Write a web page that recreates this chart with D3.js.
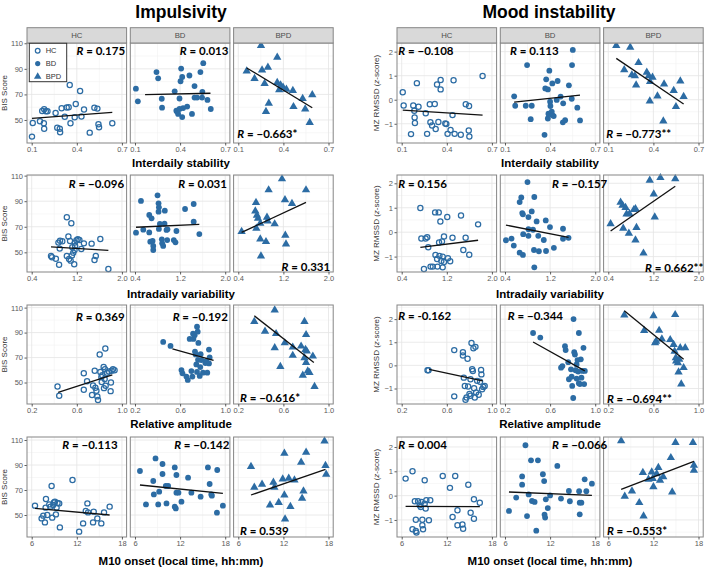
<!DOCTYPE html>
<html><head><meta charset="utf-8">
<script src="https://cdn.jsdelivr.net/npm/d3@7"></script>
<style>body{margin:0;background:#fff}svg{display:block}</style>
</head><body>
<svg id="c" width="709" height="570"></svg>
<script>
// ---------------- DATA ----------------
const groups = ["HC","BD","BPD"];
const blockTitles = ["Impulsivity","Mood instability"];
const rowTitles = ["Interdaily stability","Intradaily variability","Relative amplitude","M10 onset (local time, hh:mm)"];
const xTicks = [[0.1,0.4,0.7],[0.4,1.2,2.0],[0.2,0.6,1.0],[6,12,18]];
const xTickLabels = [["0.1","0.4","0.7"],["0.4","1.2","2.0"],["0.2","0.6","1.0"],["6","12","18"]];
const bisTicks = [50,70,90,110];
const bisTickLabels = ["50","70","90","110"];
const mzTicks = [-1,0,1,2];
const mzTickLabels = ["\u22121","0","1","2"];

// Impulsivity (BIS score)
const imp_IS_HC = [[0.102,37.0],[0.107,47.7],[0.155,49.0],[0.170,57.1],[0.183,58.4],[0.194,56.8],[0.205,56.8],[0.183,43.2],[0.181,47.4],[0.259,55.5],[0.270,44.0],[0.287,43.2],[0.289,40.4],[0.299,59.2],[0.320,52.5],[0.333,59.7],[0.346,60.0],[0.353,77.4],[0.358,47.4],[0.386,52.1],[0.393,62.5],[0.422,72.6],[0.431,52.7],[0.448,58.2],[0.486,40.1],[0.517,59.5],[0.537,58.9],[0.544,46.6],[0.548,44.3],[0.636,47.4]];
const imp_IS_BD = [[0.106,74.5],[0.119,64.6],[0.243,87.5],[0.254,82.6],[0.278,66.6],[0.280,59.6],[0.364,72.4],[0.375,57.3],[0.381,56.5],[0.387,54.7],[0.396,58.6],[0.396,66.8],[0.403,80.3],[0.407,90.2],[0.414,52.3],[0.414,83.7],[0.420,59.3],[0.447,60.5],[0.462,84.8],[0.479,54.7],[0.496,76.5],[0.496,67.5],[0.513,67.5],[0.535,87.5],[0.546,67.5],[0.548,72.0],[0.554,94.4],[0.582,65.7],[0.604,58.6]];
const imp_IS_BPD = [[0.156,88.3],[0.208,82.3],[0.251,108.2],[0.258,89.1],[0.275,78.4],[0.297,91.2],[0.303,63.0],[0.284,56.5],[0.359,99.0],[0.359,79.2],[0.372,73.5],[0.381,77.4],[0.398,75.6],[0.420,74.0],[0.463,73.0],[0.467,60.4],[0.528,66.7],[0.545,58.6],[0.575,47.9],[0.592,69.6]];
const imp_IV_HC = [[0.743,47.1],[0.760,46.1],[0.829,45.0],[0.874,57.6],[0.897,52.9],[0.886,40.3],[0.903,59.1],[0.943,58.6],[1.023,77.4],[1.023,47.1],[1.051,62.3],[1.063,44.8],[1.080,58.9],[1.091,43.5],[1.103,72.7],[1.114,47.6],[1.120,53.9],[1.137,49.7],[1.154,40.6],[1.166,57.6],[1.171,55.0],[1.194,59.4],[1.217,60.2],[1.246,59.6],[1.280,52.6],[1.326,57.0],[1.463,56.8],[1.514,44.0],[1.537,47.1],[1.617,60.4],[1.760,37.0],[1.160,51.8]];
const imp_IV_BD = [[0.418,65.4],[0.506,90.2],[0.547,67.7],[0.653,79.2],[0.653,65.6],[0.694,76.6],[0.671,58.3],[0.712,58.9],[0.724,55.0],[0.724,51.8],[0.800,94.6],[0.818,88.3],[0.824,85.2],[0.818,81.8],[0.824,68.3],[0.841,72.2],[0.876,60.2],[0.882,57.0],[0.900,55.0],[0.929,82.6],[0.924,72.4],[0.959,67.5],[0.976,68.0],[0.971,59.6],[1.088,59.6],[1.118,57.8],[1.135,66.7],[1.288,83.9],[1.441,87.8],[1.441,74.0],[1.541,64.3]];
const imp_IV_BPD = [[0.459,66.2],[0.714,88.9],[0.702,82.3],[0.731,79.0],[0.749,76.6],[0.720,68.8],[0.790,60.4],[0.802,47.1],[0.790,72.7],[0.891,58.3],[0.909,77.4],[0.921,74.5],[0.938,98.8],[1.045,72.2],[1.175,107.4],[1.228,91.0],[1.234,63.3],[1.246,56.5],[1.352,88.1],[1.601,98.8]];
const imp_RA_HC = [[0.429,46.8],[0.444,39.4],[0.662,57.4],[0.662,44.2],[0.735,40.0],[0.744,47.6],[0.759,59.5],[0.765,45.8],[0.774,43.4],[0.782,38.9],[0.788,36.0],[0.803,72.5],[0.809,58.5],[0.818,54.5],[0.821,50.5],[0.826,55.8],[0.838,62.4],[0.847,52.9],[0.853,77.2],[0.850,60.6],[0.841,45.5],[0.856,47.4],[0.868,57.9],[0.885,58.9],[0.900,43.1],[0.903,50.0],[0.909,59.5],[0.921,60.6],[0.935,59.8],[0.691,51.1]];
const imp_RA_BD = [[0.450,82.5],[0.515,79.3],[0.612,60.0],[0.621,57.4],[0.656,54.8],[0.668,52.1],[0.685,84.9],[0.700,59.2],[0.709,54.8],[0.715,89.1],[0.718,84.9],[0.729,87.8],[0.732,74.8],[0.738,72.5],[0.744,64.5],[0.750,94.7],[0.756,90.7],[0.762,81.7],[0.750,58.5],[0.759,68.2],[0.774,55.3],[0.779,62.4],[0.782,72.7],[0.788,68.0],[0.803,57.9],[0.824,65.6],[0.832,67.2],[0.841,57.9],[0.856,76.4],[0.862,70.1],[0.856,65.3]];
const imp_RA_BPD = [[0.342,98.9],[0.437,91.0],[0.523,108.1],[0.535,89.1],[0.523,77.8],[0.573,62.7],[0.612,81.7],[0.683,78.3],[0.683,71.7],[0.772,55.8],[0.757,79.1],[0.787,98.9],[0.801,88.3],[0.796,76.4],[0.807,75.1],[0.801,65.9],[0.816,59.2],[0.831,57.9],[0.861,71.1],[0.876,46.8],[0.787,69.8]];
const imp_M10_HC = [[6.44,57.5],[7.32,47.3],[7.54,49.5],[7.76,44.1],[7.85,55.9],[7.90,62.8],[8.07,50.0],[8.34,58.5],[8.65,73.2],[8.73,47.9],[8.87,58.0],[8.96,60.1],[9.09,60.7],[9.22,50.5],[9.31,55.9],[9.44,59.6],[9.66,59.3],[9.75,40.1],[8.51,56.7],[11.43,78.0],[12.31,36.7],[12.84,43.3],[13.19,53.2],[13.41,59.3],[13.50,52.1],[14.25,52.7],[14.73,47.3],[14.16,44.1],[15.26,43.3],[15.62,52.1],[16.37,56.7]];
const imp_M10_BD = [[6.66,85.2],[7.46,58.5],[8.43,77.2],[8.51,66.5],[8.73,95.3],[9.09,58.5],[9.22,68.7],[9.66,90.8],[9.66,82.8],[10.10,73.2],[10.19,59.3],[10.41,73.2],[11.29,88.1],[11.29,56.7],[11.43,55.3],[11.51,82.0],[11.51,67.9],[11.78,67.9],[12.18,60.7],[13.06,79.9],[13.50,67.9],[14.73,64.7],[15.70,88.1],[15.93,74.8],[16.15,66.5],[16.23,65.5],[16.90,51.9],[16.94,86.0],[17.69,57.5]];
const imp_M10_BPD = [[7.69,88.7],[8.13,72.1],[9.16,74.5],[10.22,58.0],[10.67,76.1],[10.80,72.1],[11.38,59.9],[11.91,78.7],[12.13,99.3],[12.13,66.0],[12.22,46.8],[12.71,79.3],[12.93,56.7],[13.47,78.0],[14.36,92.1],[14.49,63.3],[14.67,69.2],[15.02,100.1],[17.47,109.2],[17.60,89.5],[17.69,82.5]];

// Mood instability (MZ RMSSD z-score)
const mood_IS_HC = [[0.107,0.31],[0.113,-0.24],[0.162,-1.43],[0.177,-0.24],[0.184,-0.46],[0.186,-0.74],[0.188,-0.97],[0.201,0.69],[0.212,-0.29],[0.260,-0.56],[0.269,-1.42],[0.287,-0.19],[0.291,-0.94],[0.302,-1.07],[0.320,-0.18],[0.326,-1.22],[0.335,0.63],[0.344,-0.93],[0.359,0.82],[0.359,0.43],[0.390,-0.99],[0.397,-1.01],[0.405,-1.42],[0.425,-1.26],[0.438,-0.64],[0.445,0.81],[0.452,-1.42],[0.493,-1.46],[0.526,-0.19],[0.548,-0.26],[0.546,-1.28],[0.550,-1.53],[0.638,0.99]];
const mood_IS_BD = [[0.161,0.14],[0.168,-0.25],[0.238,-0.25],[0.247,1.44],[0.271,-0.81],[0.278,-0.25],[0.363,-1.46],[0.368,0.47],[0.374,0.85],[0.385,0.43],[0.385,-0.78],[0.389,-0.58],[0.395,1.21],[0.400,-0.08],[0.402,-0.26],[0.411,-0.50],[0.415,0.68],[0.415,-0.64],[0.424,-0.68],[0.444,-0.01],[0.450,0.78],[0.470,0.13],[0.487,-0.15],[0.485,-0.94],[0.500,-0.85],[0.525,0.60],[0.544,0.04],[0.546,1.44],[0.551,2.07],[0.581,-0.33],[0.599,-0.86]];
const mood_IS_BPD = [[0.153,2.25],[0.206,1.24],[0.246,2.18],[0.257,1.03],[0.277,0.99],[0.285,0.61],[0.301,1.54],[0.356,1.14],[0.369,0.99],[0.376,-0.06],[0.394,0.93],[0.378,0.75],[0.427,0.15],[0.466,-0.89],[0.471,0.65],[0.535,0.38],[0.550,-0.29],[0.579,0.78],[0.601,0.13]];
const mood_IV_HC = [[0.731,0.99],[0.749,-0.26],[0.795,-1.51],[0.824,-0.26],[0.853,-0.21],[0.871,-0.62],[0.912,-1.41],[0.952,-1.41],[0.993,0.81],[0.999,-0.93],[1.028,-1.10],[1.034,-1.41],[1.057,0.81],[1.069,-0.97],[1.086,0.44],[1.063,-0.42],[1.103,-1.18],[1.115,-0.38],[1.127,-1.44],[1.150,-0.18],[1.150,-1.22],[1.208,0.62],[1.220,-1.07],[1.260,-1.19],[1.301,-0.23],[1.127,-1.00],[1.452,0.68],[1.493,-0.73],[1.534,-0.23],[1.598,-0.92],[1.755,0.32]];
const mood_IV_BD = [[0.417,-0.33],[0.516,-0.26],[0.556,-0.55],[0.660,1.23],[0.689,1.42],[0.660,-0.84],[0.718,-0.93],[0.706,0.78],[0.718,0.73],[0.723,-0.08],[0.799,2.05],[0.816,0.62],[0.816,0.12],[0.816,-0.15],[0.874,0.85],[0.897,0.10],[0.920,1.44],[0.914,-0.73],[0.920,-1.44],[0.961,0.44],[0.990,-0.15],[1.001,-0.78],[1.088,-0.32],[1.123,0.48],[1.128,-0.77],[1.198,0.21],[1.267,-0.64],[1.429,0.14],[1.429,-0.27],[1.527,-0.23]];
const mood_IV_BPD = [[0.441,0.34],[0.618,1.22],[0.653,1.10],[0.665,0.16],[0.706,1.01],[0.724,0.74],[0.765,-0.05],[0.776,0.75],[0.853,0.92],[0.882,0.96],[0.882,-0.32],[0.900,0.19],[1.024,-0.86],[1.135,2.12],[1.206,1.56],[1.224,0.62],[1.324,2.23],[1.588,2.18]];
const mood_RA_HC = [[0.429,-0.21],[0.438,-0.21],[0.666,0.66],[0.666,-1.34],[0.743,0.57],[0.743,0.43],[0.751,-0.53],[0.760,-0.89],[0.766,-1.49],[0.775,-1.39],[0.784,0.29],[0.789,-0.91],[0.801,-1.24],[0.810,-0.60],[0.819,0.97],[0.825,-0.17],[0.831,-0.24],[0.836,0.74],[0.842,-0.99],[0.848,-1.39],[0.854,0.80],[0.860,-1.17],[0.869,-0.67],[0.883,-1.27],[0.895,-0.71],[0.904,-0.20],[0.907,-0.39],[0.913,-1.03],[0.924,-0.93],[0.936,-0.89],[0.810,-1.31]];
const mood_RA_BD = [[0.449,1.40],[0.513,1.20],[0.697,-0.10],[0.709,-0.03],[0.732,0.83],[0.738,0.66],[0.761,0.14],[0.767,-0.60],[0.785,-0.17],[0.796,-0.89],[0.805,-1.41],[0.808,2.00],[0.814,0.57],[0.820,0.47],[0.826,-0.21],[0.835,0.04],[0.835,-0.57],[0.843,0.23],[0.849,-0.27],[0.855,1.40],[0.864,-0.81],[0.872,0.26],[0.878,-0.53],[0.887,-0.24],[0.896,0.76],[0.902,-0.81],[0.908,-0.24],[0.791,-0.49],[0.855,-0.77]];
const mood_RA_BPD = [[0.342,2.17],[0.518,1.50],[0.601,2.14],[0.615,0.97],[0.624,1.04],[0.651,1.51],[0.675,1.14],[0.749,1.11],[0.779,0.90],[0.793,2.19],[0.788,0.61],[0.799,0.33],[0.802,0.19],[0.817,0.11],[0.829,0.26],[0.838,0.76],[0.823,-0.29],[0.868,-0.10],[0.847,-0.81],[0.882,0.76]];
const mood_M10_HC = [[6.52,0.70],[7.44,1.00],[7.44,-1.38],[7.75,-0.23],[7.88,-0.99],[7.88,-1.45],[7.97,-1.52],[8.18,-0.23],[8.40,-0.40],[8.53,-0.47],[8.62,-0.26],[8.75,-0.99],[8.75,-1.22],[8.84,-1.38],[9.06,0.63],[9.19,-0.53],[9.28,-0.19],[9.62,-1.01],[9.80,-0.19],[9.06,-0.33],[11.46,0.81],[12.42,0.32],[12.77,-0.88],[13.12,0.81],[13.42,-0.60],[13.42,-1.22],[14.08,-1.19],[14.17,-1.36],[14.86,0.45],[15.17,-0.70],[15.61,-0.15],[15.61,-0.95],[16.39,-0.29]];
const mood_M10_BD = [[6.53,-0.63],[7.49,-0.08],[8.28,0.79],[8.28,0.45],[8.72,2.07],[8.93,-0.84],[9.15,0.05],[9.46,1.45],[9.59,-0.22],[9.94,-0.26],[10.16,-1.44],[10.38,1.45],[11.04,0.88],[11.21,0.60],[11.26,-0.78],[11.34,-0.90],[11.43,-0.15],[11.69,-0.51],[12.00,0.01],[12.96,1.22],[13.45,-0.12],[14.50,0.19],[14.63,-0.23],[15.86,0.18],[15.94,-0.29],[15.94,-0.77],[16.16,-0.29],[16.60,0.67],[16.82,0.18],[17.56,0.49]];
const mood_M10_BPD = [[7.71,2.25],[8.19,-0.03],[9.15,0.19],[10.12,-0.29],[10.60,0.95],[10.69,-0.84],[11.34,0.67],[11.78,0.97],[11.91,0.70],[12.00,0.36],[12.44,0.90],[12.66,1.15],[12.88,0.63],[13.31,0.77],[14.32,1.56],[14.50,0.15],[14.94,2.18],[17.26,2.18],[17.39,1.25],[17.39,1.04]];

// fitted regression lines (start and end of each fit, data units) per row, per group
const imp_fits = [
  [[[0.102,51.3],[0.636,56.0]], [[0.167,69.9],[0.602,70.9]], [[0.156,90.7],[0.592,59.6]]],
  [[[0.743,54.2],[1.760,51.6]], [[0.418,69.6],[1.541,71.9]], [[0.459,65.6],[1.601,89.1]]],
  [[[0.435,42.1],[0.915,56.1]], [[0.532,77.0],[0.897,67.7]], [[0.342,103.4],[0.870,66.1]]],
  [[[6.44,55.3],[16.37,50.0]], [[6.66,74.0],[17.69,67.3]], [[7.69,66.0],[17.60,86.5]]]
];
const mood_fits = [
  [[[0.107,-0.43],[0.638,-0.64]], [[0.161,-0.10],[0.599,0.19]], [[0.153,1.72],[0.601,-0.18]]],
  [[[0.731,-0.62],[1.755,-0.33]], [[0.417,0.29],[1.527,-0.21]], [[0.441,0.05],[1.588,1.88]]],
  [[[0.443,-0.17],[0.918,-0.67]], [[0.449,1.01],[0.908,-0.24]], [[0.342,2.36],[0.868,0.26]]],
  [[[6.52,-0.44],[16.39,-0.45]], [[6.53,0.15],[17.56,0.01]], [[7.71,0.26],[17.39,1.41]]]
];
const imp_R = [["0.175","0.013","\u22120.663*"],["\u22120.096","0.031","0.331"],["0.369","\u22120.192","\u22120.616*"],["\u22120.113","\u22120.142","0.539"]];
const mood_R = [["\u22120.108","0.113","\u22120.773**"],["0.156","\u22120.157","0.662**"],["-0.162","\u22120.344","\u22120.694**"],["0.004","\u22120.066","\u22120.553*"]];

// ---------------- LAYOUT ----------------
const COL = "#2c6ca4";
const FONT = "'Liberation Sans', Arial, sans-serif";
const RFONT = "Lato, 'Open Sans', sans-serif";
const rowTop = [43,175,305,437], rowBot = [143,272,404,537];
const rowTitleY = [167,297.5,427.5,564.5];
const panelW = 99.6, panelGap = 3.7;

// label placement: [corner, dx, dy] relative to panel corner (baseline)
const impRpos = [
  [["tr",-1.5,12],["tr",-1.5,12],["bl",3.7,-4.7]],
  [["tr",-2.5,13.3],["tr",-3,13.3],["br",-3,-1]],
  [["tr",-2,15.7],["tr",-2,15.7],["bl",6.4,-2.5]],
  [["tr",-9,12],["tr",-0.5,12],["bl",6.4,-2]]
];
const moodRpos = [
  [["tl",1.3,12],["tl",9.8,12],["bl",2.6,-4.7]],
  [["tl",1.3,13.3],["tr",7.4,13.3],["br",0.2,-0.5]],
  [["tl",1.3,15],["tl",7.5,15],["bl",3.3,-0.7]],
  [["tl",1.3,12],["tr",7.4,12],["bl",3.3,-2]]
];

const blocks = [
  { x0: 27, title: blockTitles[0], titleX: 181, rowTitleX: 181, yLabel: "BIS Score", yLabX: 7,
    yTicks: bisTicks, yTickLabels: bisTickLabels,
    yDomains: [[32,110.2],[34.6,110.5],[32.8,112.1],[32.4,112.4]],
    data: [[imp_IS_HC,imp_IS_BD,imp_IS_BPD],[imp_IV_HC,imp_IV_BD,imp_IV_BPD],[imp_RA_HC,imp_RA_BD,imp_RA_BPD],[imp_M10_HC,imp_M10_BD,imp_M10_BPD]],
    fits: imp_fits, R: imp_R, Rpos: impRpos },
  { x0: 397, title: blockTitles[1], titleX: 549, rowTitleX: 550, yLabel: "MZ RMSSD", yLabX: 379,
    yTicks: mzTicks, yTickLabels: mzTickLabels,
    yDomains: [[-1.8,2.36],[-1.63,2.34],[-1.67,2.61],[-1.7,2.41]],
    data: [[mood_IS_HC,mood_IS_BD,mood_IS_BPD],[mood_IV_HC,mood_IV_BD,mood_IV_BPD],[mood_RA_HC,mood_RA_BD,mood_RA_BPD],[mood_M10_HC,mood_M10_BD,mood_M10_BPD]],
    fits: mood_fits, R: mood_R, Rpos: moodRpos }
];

const svg = d3.select("#c");
svg.append("rect").attr("width",709).attr("height",570).attr("fill","#fff");
const panelLayer = svg.append("g");
const labelLayer = svg.append("g");

function drawSymbol(g, grp, x, y, s) {
  s = s || 1;
  if (grp === "HC") {
    g.append("circle").attr("cx",x).attr("cy",y).attr("r",2.6*s)
      .attr("fill","none").attr("stroke",COL).attr("stroke-width",1.25);
  } else if (grp === "BD") {
    g.append("circle").attr("cx",x).attr("cy",y).attr("r",2.9*s).attr("fill",COL);
  } else {
    g.append("path").attr("d", d3.symbol().type(d3.symbolTriangle).size(30*s*s)())
      .attr("transform",`translate(${x},${y})`).attr("fill",COL);
  }
}

function minorTicks(ticks, dom) {
  const step = ticks[1]-ticks[0];
  const out = ticks.map(t => t - step/2).concat([ticks[ticks.length-1] + step/2]);
  const lo = Math.min(dom[0],dom[1]), hi = Math.max(dom[0],dom[1]);
  return out.filter(v => v > lo && v < hi);
}

blocks.forEach((b) => {
  labelLayer.append("text").attr("x", b.titleX).attr("y", 17.5).attr("text-anchor","middle")
    .attr("font-family",FONT).attr("font-weight","bold").attr("font-size",17.5).attr("fill","#000").text(b.title);

  for (let r = 0; r < 4; r++) {
    const top = rowTop[r], bot = rowBot[r];
    const y = d3.scaleLinear().domain(b.yDomains[r]).range([bot, top]);
    const xt = xTicks[r];
    const span = xt[xt.length-1] - xt[0];
    // y axis title
    const yt = panelLayer.append("text").attr("transform",`translate(${b.yLabX},${(top+bot)/2}) rotate(-90)`)
      .attr("text-anchor","middle").attr("font-family",FONT).attr("font-size",8).attr("fill","#333");
    yt.append("tspan").text(b.yLabel);
    if (b.yLabel !== "BIS Score") {
      yt.append("tspan").text(" (");
      yt.append("tspan").attr("font-style","italic").text("z");
      yt.append("tspan").text("-score)");
    }
    const yAxis = d3.axisLeft(y).tickValues(b.yTicks).tickSize(2.5).tickPadding(1.5)
      .tickFormat((d,i) => b.yTickLabels[i]);
    const ya = panelLayer.append("g").attr("transform",`translate(${b.x0},0)`).call(yAxis);
    ya.select(".domain").remove();
    ya.selectAll("line").attr("stroke","#333").attr("stroke-width",0.8);
    ya.selectAll("text").attr("font-family",FONT).attr("font-size",7.5).attr("fill","#5a5a5a");

    labelLayer.append("text").attr("x", b.rowTitleX).attr("y", rowTitleY[r]).attr("text-anchor","middle")
      .attr("font-family",FONT).attr("font-weight","bold").attr("font-size",11.5).attr("fill","#000")
      .text(rowTitles[r]);

    for (let g = 0; g < 3; g++) {
      const px = b.x0 + g*(panelW + panelGap);
      const x = d3.scaleLinear().domain([xt[0] - 0.052*span, xt[xt.length-1] + 0.052*span]).range([px, px+panelW]);
      const pg = panelLayer.append("g");
      pg.append("rect").attr("x",px).attr("y",top).attr("width",panelW).attr("height",bot-top).attr("fill","#fff");
      minorTicks(xt, x.domain()).forEach(v => pg.append("line").attr("x1",x(v)).attr("x2",x(v)).attr("y1",top).attr("y2",bot).attr("stroke","#f1f1f1").attr("stroke-width",0.6));
      minorTicks(b.yTicks, y.domain()).forEach(v => pg.append("line").attr("x1",px).attr("x2",px+panelW).attr("y1",y(v)).attr("y2",y(v)).attr("stroke","#f1f1f1").attr("stroke-width",0.6));
      xt.forEach(v => pg.append("line").attr("x1",x(v)).attr("x2",x(v)).attr("y1",top).attr("y2",bot).attr("stroke","#e4e4e4").attr("stroke-width",0.8));
      b.yTicks.forEach(v => pg.append("line").attr("x1",px).attr("x2",px+panelW).attr("y1",y(v)).attr("y2",y(v)).attr("stroke","#e4e4e4").attr("stroke-width",0.8));
      const grp = groups[g];
      b.data[r][g].forEach(d => drawSymbol(pg, grp, x(d[0]), y(d[1])));
      const f = b.fits[r][g];
      pg.append("path").attr("d", d3.line().x(d => x(d[0])).y(d => y(d[1]))(f))
        .attr("stroke","#111").attr("stroke-width",1.3).attr("fill","none");
      pg.append("rect").attr("x",px).attr("y",top).attr("width",panelW).attr("height",bot-top)
        .attr("fill","none").attr("stroke","#858585").attr("stroke-width",1);
      const xAxis = d3.axisBottom(x).tickValues(xt).tickSize(2.5).tickPadding(1.5).tickFormat((d,i) => xTickLabels[r][i]);
      const xa = panelLayer.append("g").attr("transform",`translate(0,${bot})`).call(xAxis);
      xa.select(".domain").remove();
      xa.selectAll("line").attr("stroke","#333").attr("stroke-width",0.8);
      xa.selectAll("text").attr("font-family",FONT).attr("font-size",7.5).attr("fill","#5a5a5a");
      if (r === 0) {
        panelLayer.append("rect").attr("x",px).attr("y",27.7).attr("width",panelW).attr("height",top-27.7)
          .attr("fill","#d9d9d9").attr("stroke","#858585").attr("stroke-width",1);
        panelLayer.append("text").attr("x",px+panelW/2).attr("y",38.3).attr("text-anchor","middle")
          .attr("font-family",FONT).attr("font-size",7.8).attr("fill","#4d4d4d").text(grp);
      }
      // R label (drawn on top of every panel)
      const [corner, dx, dy] = b.Rpos[r][g];
      const ax = corner[1] === "l" ? px + dx : px + panelW + dx;
      const ay = corner[0] === "t" ? top + dy : bot + dy;
      const t = labelLayer.append("text").attr("x",ax).attr("y",ay)
        .attr("text-anchor", corner[1] === "l" ? "start" : "end")
        .attr("font-family",RFONT).attr("font-weight","bold").attr("font-size",11.5).attr("fill","#000");
      t.append("tspan").attr("font-style","italic").text("R");
      t.append("tspan").text(" = " + b.R[r][g]);
    }
  }
});

// legend (inside the first HC panel)
const lg = labelLayer.append("g");
const lx = blocks[0].x0 + 2.3, ly = rowTop[0] + 0.3;
lg.append("rect").attr("x",lx).attr("y",ly).attr("width",37.4).attr("height",38.4)
  .attr("fill","#fff").attr("stroke","#333").attr("stroke-width",1);
groups.forEach((grp, i) => {
  const cy = ly + 7.4 + i*12.9;
  drawSymbol(lg, grp, lx + 8.4, cy, 0.9);
  lg.append("text").attr("x", lx + 16.4).attr("y", cy + 2.7).attr("font-family",FONT)
    .attr("font-size",7.5).attr("fill","#333").text(grp);
});
</script>
</body></html>
